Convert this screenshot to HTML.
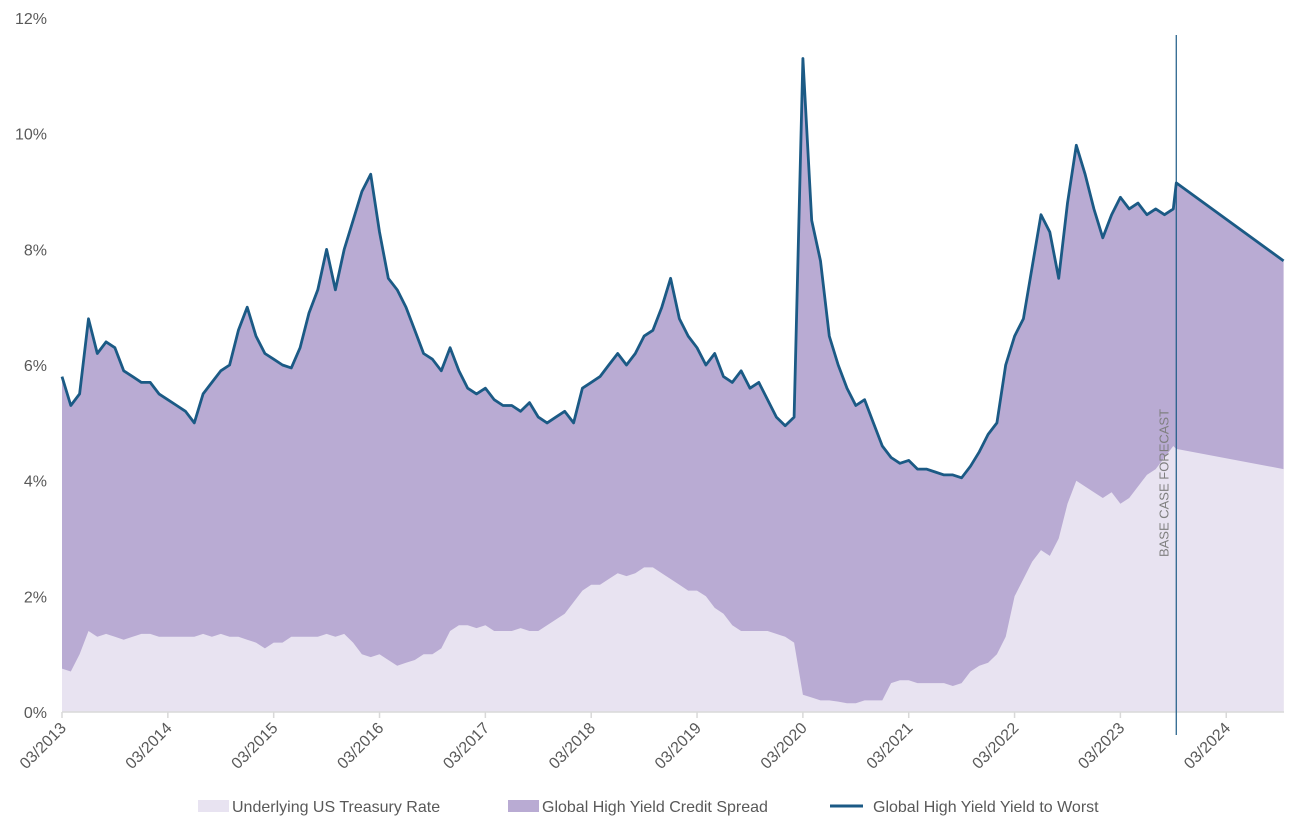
<!DOCTYPE html>
<html><head><meta charset="utf-8"><style>
body{margin:0;background:#fff;font-family:"Liberation Sans",sans-serif;}
svg text{font-family:"Liberation Sans",sans-serif;}
</style></head><body>
<svg id="chart" width="1315" height="831">
<g id="grid"></g><g id="areas"></g><g id="axes"></g><g id="legend"></g>
</svg>
<script>
const dates=["2013-03","2013-04","2013-05","2013-06","2013-07","2013-08","2013-09","2013-10","2013-11","2013-12",
"2014-01","2014-02","2014-03","2014-04","2014-05","2014-06","2014-07","2014-08","2014-09","2014-10","2014-11","2014-12",
"2015-01","2015-02","2015-03","2015-04","2015-05","2015-06","2015-07","2015-08","2015-09","2015-10","2015-11","2015-12",
"2016-01","2016-02","2016-03","2016-04","2016-05","2016-06","2016-07","2016-08","2016-09","2016-10","2016-11","2016-12",
"2017-01","2017-02","2017-03","2017-04","2017-05","2017-06","2017-07","2017-08","2017-09","2017-10","2017-11","2017-12",
"2018-01","2018-02","2018-03","2018-04","2018-05","2018-06","2018-07","2018-08","2018-09","2018-10","2018-11","2018-12",
"2019-01","2019-02","2019-03","2019-04","2019-05","2019-06","2019-07","2019-08","2019-09","2019-10","2019-11","2019-12",
"2020-01","2020-02","2020-03","2020-04","2020-05","2020-06","2020-07","2020-08","2020-09","2020-10","2020-11","2020-12",
"2021-01","2021-02","2021-03","2021-04","2021-05","2021-06","2021-07","2021-08","2021-09","2021-10","2021-11","2021-12",
"2022-01","2022-02","2022-03","2022-04","2022-05","2022-06","2022-07","2022-08","2022-09","2022-10","2022-11","2022-12",
"2023-01","2023-02","2023-03","2023-04","2023-05","2023-06","2023-07","2023-08","2023-09","2023-09-10","2024-09-15"];
const yieldToWorst=[5.8,5.3,5.5,6.8,6.2,6.4,6.3,5.9,5.8,5.7,
5.7,5.5,5.4,5.3,5.2,5.0,5.5,5.7,5.9,6.0,6.6,7.0,
6.5,6.2,6.1,6.0,5.95,6.3,6.9,7.3,8.0,7.3,8.0,8.5,
9.0,9.3,8.3,7.5,7.3,7.0,6.6,6.2,6.1,5.9,6.3,5.9,
5.6,5.5,5.6,5.4,5.3,5.3,5.2,5.35,5.1,5.0,5.1,5.2,
5.0,5.6,5.7,5.8,6.0,6.2,6.0,6.2,6.5,6.6,7.0,7.5,
6.8,6.5,6.3,6.0,6.2,5.8,5.7,5.9,5.6,5.7,5.4,5.1,
4.95,5.1,11.3,8.5,7.8,6.5,6.0,5.6,5.3,5.4,5.0,4.6,
4.4,4.3,4.35,4.2,4.2,4.15,4.1,4.1,4.05,4.25,4.5,4.8,
5.0,6.0,6.5,6.8,7.7,8.6,8.3,7.5,8.8,9.8,9.3,8.7,
8.2,8.6,8.9,8.7,8.8,8.6,8.7,8.6,8.7,9.15,7.8];
const treasuryRate=[0.75,0.7,1.0,1.4,1.3,1.35,1.3,1.25,1.3,1.35,
1.35,1.3,1.3,1.3,1.3,1.3,1.35,1.3,1.35,1.3,1.3,1.25,
1.2,1.1,1.2,1.2,1.3,1.3,1.3,1.3,1.35,1.3,1.35,1.2,
1.0,0.95,1.0,0.9,0.8,0.85,0.9,1.0,1.0,1.1,1.4,1.5,
1.5,1.45,1.5,1.4,1.4,1.4,1.45,1.4,1.4,1.5,1.6,1.7,
1.9,2.1,2.2,2.2,2.3,2.4,2.35,2.4,2.5,2.5,2.4,2.3,
2.2,2.1,2.1,2.0,1.8,1.7,1.5,1.4,1.4,1.4,1.4,1.35,
1.3,1.2,0.3,0.25,0.2,0.2,0.18,0.15,0.15,0.2,0.2,0.2,
0.5,0.55,0.55,0.5,0.5,0.5,0.5,0.45,0.5,0.7,0.8,0.85,
1.0,1.3,2.0,2.3,2.6,2.8,2.7,3.0,3.6,4.0,3.9,3.8,
3.7,3.8,3.6,3.7,3.9,4.1,4.2,4.4,4.6,4.55,4.2];
const yTicks=[0,2,4,6,8,10,12];
const xTickLabels=["03/2013","03/2014","03/2015","03/2016","03/2017","03/2018","03/2019","03/2020","03/2021","03/2022","03/2023","03/2024"];
const forecastDate="2023-09-10";

const NS="http://www.w3.org/2000/svg";
const X0=62,MPX=8.82,Y0=712,PPU=57.83,XEND=1284;
function monthIdx(s){const p=s.split("-");return (+p[0]-2013)*12+(+p[1]-3)+(p[2]?(+p[2])/30:0);}
function xs(s){return X0+monthIdx(s)*MPX;}
function ys(v){return Y0-v*PPU;}
function mk(tag,attrs,parent){const e=document.createElementNS(NS,tag);for(const k in attrs)e.setAttribute(k,attrs[k]);parent.appendChild(e);return e;}
const gAreas=document.getElementById("areas"),gAxes=document.getElementById("axes"),gLegend=document.getElementById("legend");

let ytwPath="",lowPath="";
dates.forEach((d,i)=>{ytwPath+=(i?"L":"M")+xs(d).toFixed(1)+","+ys(yieldToWorst[i]).toFixed(1);lowPath+="L"+xs(d).toFixed(1)+","+ys(treasuryRate[i]).toFixed(1);});
const xLast=xs(dates[dates.length-1]).toFixed(1);
const sp=mk("path",{d:ytwPath+"L"+xLast+","+Y0+"L"+X0+","+Y0+"Z",fill:"#b9abd3"},gAreas);


const tr=mk("path",{d:"M"+X0+","+Y0+lowPath+"L"+xLast+","+Y0+"Z",fill:"#e8e3f1"},gAreas);


const ln=mk("path",{d:ytwPath,fill:"none",stroke:"#1b5a85","stroke-width":2.8,"stroke-linejoin":"round"},gAreas);



const ax=mk("line",{x1:X0,x2:XEND,y1:Y0,y2:Y0,stroke:"#d9d9d9","stroke-width":1.5},gAxes);


yTicks.forEach(v=>{const t=mk("text",{x:47,y:ys(v)+6,"text-anchor":"end","font-size":16,fill:"#595959"},gAxes);t.textContent=v+"%";

});
xTickLabels.forEach((lab,k)=>{const x=X0+k*12*MPX;
mk("line",{x1:x,x2:x,y1:Y0,y2:Y0+6,stroke:"#d9d9d9","stroke-width":1.5},gAxes);
const t=mk("text",{x:x+5,y:Y0+17,"text-anchor":"end","font-size":16,fill:"#595959",transform:"rotate(-45 "+(x+5)+" "+(Y0+17)+")"},gAxes);t.textContent=lab;

});

const fx=xs(forecastDate);
const fl=mk("line",{x1:fx,x2:fx,y1:35,y2:735,stroke:"#1b5a85","stroke-width":1.2},gAxes);


const ft=mk("text",{x:fx-8,y:483,"text-anchor":"middle","font-size":13,fill:"#7f7f7f",transform:"rotate(-90 "+(fx-8)+" 483)"},gAxes);ft.textContent="BASE CASE FORECAST";



const items=[["Underlying US Treasury Rate","#e8e3f1",198,"rect"],["Global High Yield Credit Spread","#b9abd3",508,"rect"],["Global High Yield Yield to Worst","#1b5a85",830,"line"]];
items.forEach(it=>{const g=mk("g",{},gLegend);


if(it[3]==="rect")mk("rect",{x:it[2],y:800,width:31,height:12,fill:it[1]},g);
else mk("line",{x1:it[2],x2:it[2]+33,y1:806,y2:806,stroke:it[1],"stroke-width":3},g);
const t=mk("text",{x:it[2]+(it[3]==="rect"?34:43),y:812,"font-size":16,fill:"#595959"},g);t.textContent=it[0];});
</script>
</body></html>
